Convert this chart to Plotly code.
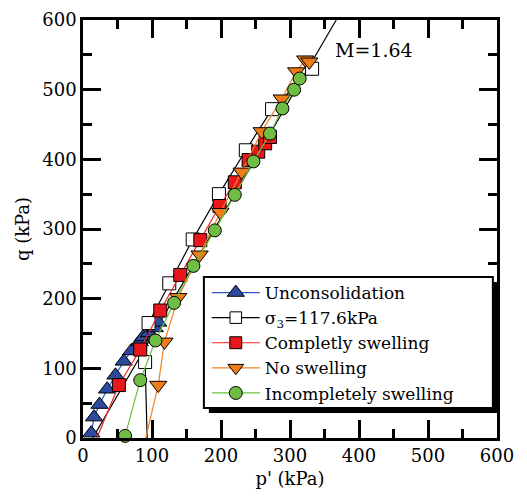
import plotly.graph_objects as go

# stress paths (p', q in kPa)
uncon_p = [12, 16, 24, 35, 47, 59, 70, 82, 87, 96, 104, 109]
uncon_q = [7, 30, 48, 70, 90, 110, 125, 138, 145, 151, 158, 166]

sig3_p = [93, 90, 95, 125, 159, 197, 236, 274, 332]
sig3_q = [0, 109, 165, 222, 285, 350, 413, 472, 530]

full_p = [20, 52, 83, 112, 141, 170, 198, 220, 240, 254, 264, 271]
full_q = [0, 76, 127, 183, 234, 284, 333, 367, 399, 411, 423, 432]

none_p = [91, 109, 118, 138, 169, 199, 230, 259, 288, 309, 322, 328]
none_q = [0, 76, 138, 202, 263, 324, 382, 440, 487, 526, 543, 540]

part_p = [61, 83, 105, 132, 160, 191, 220, 247, 271, 289, 306, 314]
part_q = [3, 83, 140, 194, 247, 298, 349, 397, 437, 473, 500, 516]

csl_p = [14, 367]
csl_q = [0, 600]

font = "DejaVu Serif"

fig = go.Figure()

fig.add_trace(go.Scatter(x=csl_p, y=csl_q, mode="lines", showlegend=False,
                         line=dict(color="black", width=1.2)))

fig.add_trace(go.Scatter(x=uncon_p, y=uncon_q, mode="lines+markers", name="Unconsolidation",
                         line=dict(color="#2b55c8", width=1.2),
                         marker=dict(symbol="triangle-up", size=15, color="#2c4a9e",
                                     line=dict(color="black", width=1))))

fig.add_trace(go.Scatter(x=sig3_p, y=sig3_q, mode="lines+markers", name="σ<sub>3</sub>=117.6kPa",
                         line=dict(color="black", width=1.2),
                         marker=dict(symbol="square", size=[0] + [13] * (len(sig3_p) - 1),
                                     color="white", line=dict(color="black", width=1))))

fig.add_trace(go.Scatter(x=full_p, y=full_q, mode="lines+markers", name="Completly swelling",
                         line=dict(color="#ee2222", width=1.2),
                         marker=dict(symbol="square", size=[0] + [13] * (len(full_p) - 1),
                                     color="#e8171c", line=dict(color="black", width=1))))

fig.add_trace(go.Scatter(x=none_p, y=none_q, mode="lines+markers", name="No swelling",
                         line=dict(color="#f08020", width=1.2),
                         marker=dict(symbol="triangle-down", size=[0] + [15] * (len(none_p) - 1),
                                     color="#f07c18", line=dict(color="black", width=1))))

fig.add_trace(go.Scatter(x=part_p, y=part_q, mode="lines+markers", name="Incompletely swelling",
                         line=dict(color="#6cc040", width=1.2),
                         marker=dict(symbol="circle", size=13, color="#6fbd44",
                                     line=dict(color="black", width=1))))

for tr in fig.data:
    tr.cliponaxis = False
    tr.marker.opacity = 1

axis_style = dict(range=[0, 600], dtick=100, showline=True, linecolor="black", linewidth=2.5,
                  mirror="ticks", ticks="inside", ticklen=18, tickwidth=2.5, tickcolor="black",
                  minor=dict(dtick=50, ticks="inside", ticklen=9, tickwidth=2.5, tickcolor="black"),
                  showgrid=False, zeroline=False, automargin=False,
                  tickfont=dict(family=font, size=18, color="black"))

fig.update_xaxes(**axis_style, title=dict(text="p' (kPa)", font=dict(family=font, size=18, color="black"),
                                          standoff=10))
fig.update_yaxes(**axis_style, title=dict(text="q (kPa)", font=dict(family=font, size=18, color="black"),
                                          standoff=8))

# legend frame and its drop shadow, drawn as shapes under a transparent legend
fig.add_shape(type="rect", xref="paper", yref="paper", layer="above",
              x0=0.304, x1=1.0, y0=0.06, y1=0.373,
              fillcolor="black", line=dict(width=0))
fig.add_shape(type="rect", xref="paper", yref="paper", layer="above",
              x0=0.292, x1=0.99, y0=0.072, y1=0.385,
              fillcolor="white", line=dict(color="black", width=2))

fig.add_annotation(x=362, y=557, xref="x", yref="y", text="M=1.64", showarrow=False,
                   xanchor="left", yanchor="middle", font=dict(family=font, size=19, color="black"))

fig.update_layout(template="none", width=511, height=481, margin=dict(l=75, r=22, t=12, b=51),
                  font=dict(family=font, color="black"),
                  paper_bgcolor="white", plot_bgcolor="white",
                  legend=dict(x=0.299, y=0.39, xanchor="left", yanchor="top",
                              bgcolor="rgba(0,0,0,0)", borderwidth=0,
                              font=dict(family=font, size=17, color="black"),
                              itemwidth=48, tracegroupgap=0))

fig.write_html("out.html")
